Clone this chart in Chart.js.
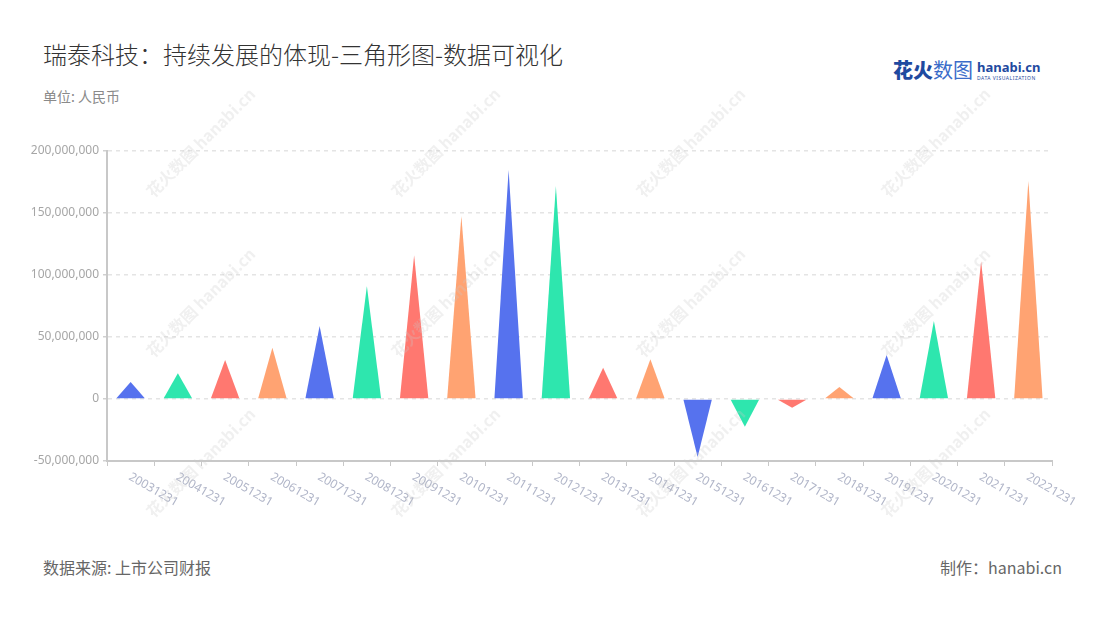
<!DOCTYPE html>
<html>
<head>
<meta charset="utf-8">
<script src="https://cdn.jsdelivr.net/npm/chart.js@4"></script>
<style>
  body { margin: 0; background: #fff; font-family: "Noto Sans", "Noto Sans CJK SC", sans-serif; }
  #wrap { position: relative; width: 1100px; height: 620px; overflow: hidden; }
  .title { position: absolute; left: 43px; top: 36px; font-size: 24px; font-weight: 300; color: #333; font-family: "Noto Sans CJK SC", sans-serif; }
  .unit { position: absolute; left: 43px; top: 86px; font-size: 14px; color: #8a8a8a; font-family: "Noto Sans CJK SC", sans-serif; }
  .source { position: absolute; left: 43px; top: 555px; font-size: 16px; color: #666; font-family: "Noto Sans CJK SC", sans-serif; }
  .maker { position: absolute; right: 38px; top: 555px; font-size: 16px; color: #666; font-family: "Noto Sans CJK SC", sans-serif; }
  .logo { position: absolute; left: 893px; top: 57px; height: 26px; }
  .logo .cn { position: absolute; left: 0; top: 0; font-size: 20px; font-family: "Noto Sans CJK SC", sans-serif; white-space: nowrap; line-height: 26px; }
  .logo .cn b { color: #1f4aa0; font-weight: 900; }
  .logo .cn span { color: #3b6cc9; }
  .logo .en { position: absolute; left: 84px; top: 3px; font-size: 13px; font-weight: bold; color: #1f4aa0; line-height: 14px; font-family: "Noto Sans", sans-serif; }
  .logo .sub { position: absolute; left: 84px; top: 18px; font-size: 5px; letter-spacing: 0.5px; color: #1f4aa0; white-space: nowrap; font-family: "Noto Sans", sans-serif; }
  .wm { position: absolute; transform: rotate(-45deg); transform-origin: left top; font-size: 16px; color: rgba(200, 200, 200, 0.28); white-space: nowrap; pointer-events: none; font-weight: bold; font-family: "Noto Sans CJK SC", sans-serif; }
  #box { position: absolute; left: 0; top: 121px; width: 1100px; height: 400px; }
</style>
</head>
<body>
<div id="wrap">
  <div class="title">瑞泰科技：持续发展的体现-三角形图-数据可视化</div>
  <div class="unit">单位: 人民币</div>
  <div class="logo">
    <div class="cn"><b>花火</b><span>数图</span></div>
    <div class="en">hanabi.cn</div>
    <div class="sub">DATA VISUALIZATION</div>
  </div>
  <div id="box"><canvas id="chart"></canvas></div>
  <div class="source">数据来源: 上市公司财报</div>
  <div class="maker">制作：hanabi.cn</div>
</div>
<script>
// 报告期
const labels = ['20031231', '20041231', '20051231', '20061231', '20071231', '20081231', '20091231',
  '20101231', '20111231', '20121231', '20131231', '20141231', '20151231', '20161231', '20171231',
  '20181231', '20191231', '20201231', '20211231', '20221231'];

// 数值（人民币）
const values = [13700000, 20700000, 31400000, 41400000, 58900000, 91000000, 116000000,
  147600000, 185000000, 171800000, 25200000, 32000000, -46800000, -22300000, -7000000,
  9700000, 35500000, 63000000, 111000000, 176000000];

const palette = ['#5672EE', '#2EE6AE', '#FF7870', '#FFA372'];

const yTicks = [-50000000, 0, 50000000, 100000000, 150000000, 200000000];

// 水印
const wrap = document.getElementById('wrap');
[[140, 185], [385, 185], [630, 185], [875, 185], [140, 345], [385, 345], [630, 345], [875, 345],
 [140, 505], [385, 505], [630, 505], [875, 505]].forEach(([x, y]) => {
  const el = document.createElement('div');
  el.className = 'wm';
  el.style.left = x + 'px';
  el.style.top = y + 'px';
  el.textContent = '花火数图 hanabi.cn';
  wrap.appendChild(el);
});

// 三角形代替柱子
const trianglePlugin = {
  id: 'triangles',
  beforeDatasetDraw(chart, args) {
    const ctx = chart.ctx;
    const meta = chart.getDatasetMeta(args.index);
    meta.data.forEach((el, i) => {
      const { x, y, base, width } = el.getProps(['x', 'y', 'base', 'width'], true);
      ctx.save();
      ctx.beginPath();
      ctx.moveTo(x - width / 2, base);
      ctx.lineTo(x, y);
      ctx.lineTo(x + width / 2, base);
      ctx.closePath();
      ctx.fillStyle = palette[i % palette.length];
      ctx.fill();
      ctx.restore();
    });
    return false;
  }
};

// 斜着向下的 x 轴标签
const xLabelPlugin = {
  id: 'xLabels',
  afterDraw(chart) {
    const ctx = chart.ctx;
    const xs = chart.scales.x;
    ctx.save();
    ctx.font = '12px "Noto Sans", sans-serif';
    ctx.fillStyle = '#b0b5c8';
    ctx.textAlign = 'left';
    ctx.textBaseline = 'middle';
    labels.forEach((lab, i) => {
      const x = xs.getPixelForValue(i);
      ctx.save();
      ctx.translate(x - 1, xs.top + 15);
      ctx.rotate(Math.PI / 6);
      ctx.fillText(lab, 0, 0);
      ctx.restore();
    });
    ctx.restore();
  }
};

new Chart(document.getElementById('chart'), {
  type: 'bar',
  data: {
    labels: labels,
    datasets: [{
      data: values,
      backgroundColor: labels.map((_, i) => palette[i % palette.length]),
      categoryPercentage: 1,
      barPercentage: 0.6
    }]
  },
  options: {
    responsive: true,
    maintainAspectRatio: false,
    animation: false,
    layout: { padding: { top: 30, right: 48, left: 0, bottom: 0 } },
    plugins: { legend: { display: false }, tooltip: { enabled: false } },
    scales: {
      x: {
        afterFit: s => { s.height = 60; },
        ticks: { display: false },
        grid: { display: true, drawOnChartArea: false, drawTicks: true, tickLength: 5, color: '#c8c8c8' },
        border: { color: '#c8c8c8', width: 2 }
      },
      y: {
        min: -50000000,
        max: 200000000,
        afterFit: s => { s.width = 107; },
        afterBuildTicks: s => { s.ticks = yTicks.map(v => ({ value: v })); },
        ticks: {
          color: '#a6a6a6',
          font: { size: 12, family: '"Noto Sans", sans-serif' },
          padding: 4,
          callback: v => v.toLocaleString('en-US')
        },
        grid: { color: '#e4e4e4', tickColor: '#d0d0d0', tickLength: 4, lineWidth: 1.5 },
        border: { color: '#c8c8c8', width: 2, dash: [4, 4] }
      }
    }
  },
  plugins: [trianglePlugin, xLabelPlugin]
});
</script>
</body>
</html>
